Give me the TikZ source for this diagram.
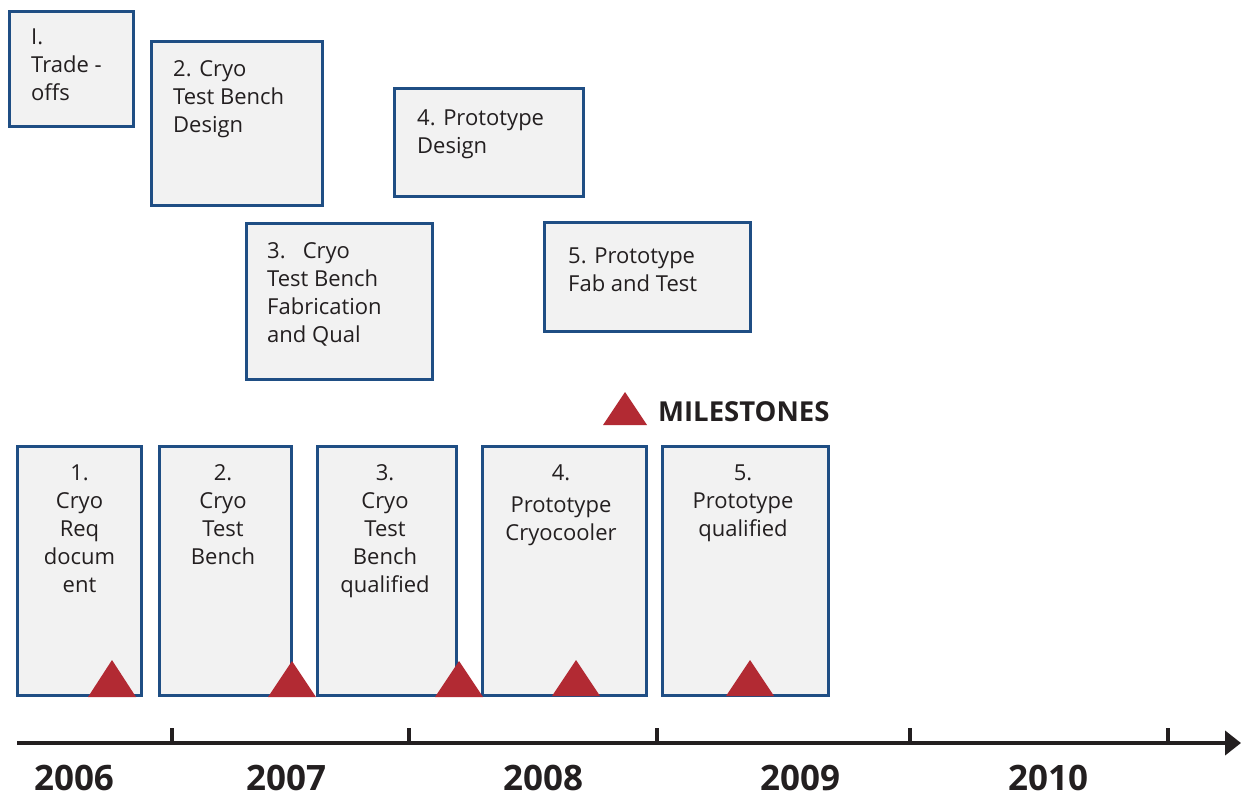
\documentclass[tikz,border=0pt]{standalone}
\usepackage{fontspec}
\setmainfont{Open Sans}
\usetikzlibrary{arrows.meta}
\definecolor{boxblue}{RGB}{31,78,132}
\definecolor{boxfill}{RGB}{242,242,242}
\definecolor{msred}{RGB}{178,42,51}
\definecolor{ink}{RGB}{35,31,32}
\tikzset{
  task/.style={draw=boxblue, fill=boxfill, line width=3.2pt, inner sep=0pt},
  tasktext/.style={anchor=base west, align=left, font=\fontsize{22}{28}\selectfont, text=ink, inner sep=0pt},
  mstext/.style={anchor=base, align=center, font=\fontsize{22}{28}\selectfont, text=ink, inner sep=0pt},
  tri/.style={fill=msred, draw=none},
  yearlbl/.style={font=\fontsize{35}{38}\selectfont\bfseries, text=ink, anchor=base, inner sep=0pt},
  tick/.style={draw=ink, line width=3.5pt},
}
\begin{document}
\begin{tikzpicture}[x=1pt,y=-1pt]
\useasboundingbox (0,0) rectangle (1241,797);
% task boxes
\node[task, minimum width=124pt, minimum height=115pt] (t1) at (71.5,69) {};
\node[task, minimum width=171pt, minimum height=164pt] (t2) at (237,123.5) {};
\node[task, minimum width=186pt, minimum height=156pt] (t3) at (339.5,301.5) {};
\node[task, minimum width=189pt, minimum height=108pt] (t4) at (489,142.5) {};
\node[task, minimum width=206pt, minimum height=109pt] (t5) at (647.5,277) {};
\node[tasktext] (t1l) at (31,101) {I.\\Trade -\\offs};
\node[tasktext] (t2l) at (173,132) {2. Cryo\\Test Bench\\Design};
\node[tasktext] (t3l) at (267,342) {3.\ \ \ Cryo\\Test Bench\\Fabrication\\and Qual};
\node[tasktext] (t4l) at (417,153) {4. Prototype\\Design};
\node[tasktext] (t5l) at (568,291) {5. Prototype\\Fab and Test};
% milestone boxes
\node[task, minimum width=124pt, minimum height=249pt] (m1) at (79.5,571) {};
\node[task, minimum width=132pt, minimum height=249pt] (m2) at (225.5,571) {};
\node[task, minimum width=139pt, minimum height=249pt] (m3) at (387,571) {};
\node[task, minimum width=164pt, minimum height=249pt] (m4) at (564.5,571) {};
\node[task, minimum width=166pt, minimum height=249pt] (m5) at (745.5,571) {};
\node[mstext] (m1l) at (79.5,592) {1.\\Cryo\\Req\\docum\\ent};
\node[mstext] (m2l) at (223,564) {2.\\Cryo\\Test\\Bench};
\node[mstext] (m3l) at (385,592) {3.\\Cryo\\Test\\Bench\\qualified};
\node[mstext] (m4l) at (561,540) {4.\\[4pt]Prototype\\Cryocooler};
\node[mstext] (m5l) at (743,536) {5.\\Prototype\\qualified};
% milestone triangles
\fill[tri] (88,697) -- (112,660) -- (136,697) -- cycle;
\fill[tri] (268,697) -- (292,661) -- (316,697) -- cycle;
\fill[tri] (435,697) -- (459,661) -- (483,697) -- cycle;
\fill[tri] (552,696) -- (576,660) -- (600,696) -- cycle;
\fill[tri] (726,696) -- (750,660) -- (774,696) -- cycle;
% legend
\fill[tri] (603,425) -- (625,392) -- (647,425) -- cycle;
\node[anchor=base west, inner sep=0pt, text=ink, font=\fontsize{27.5}{32}\selectfont\bfseries] (leg) at (658,421) {MILESTONES};
% axis
\coordinate (axs) at (17,743);
\coordinate (axe) at (1241,743);
\draw[draw=ink, line width=4pt, -{Triangle[length=16pt,width=24pt]}] (axs) -- (axe);
\foreach \x in {172,409,657,910,1168}{
  \draw[tick] (\x,743) -- (\x,728);
}
\node[yearlbl] (y6) at (74,790) {2006};
\node[yearlbl] (y7) at (286,790) {2007};
\node[yearlbl] (y8) at (543,790) {2008};
\node[yearlbl] (y9) at (800,790) {2009};
\node[yearlbl] (y10) at (1048,790) {2010};
\end{tikzpicture}
\end{document}
